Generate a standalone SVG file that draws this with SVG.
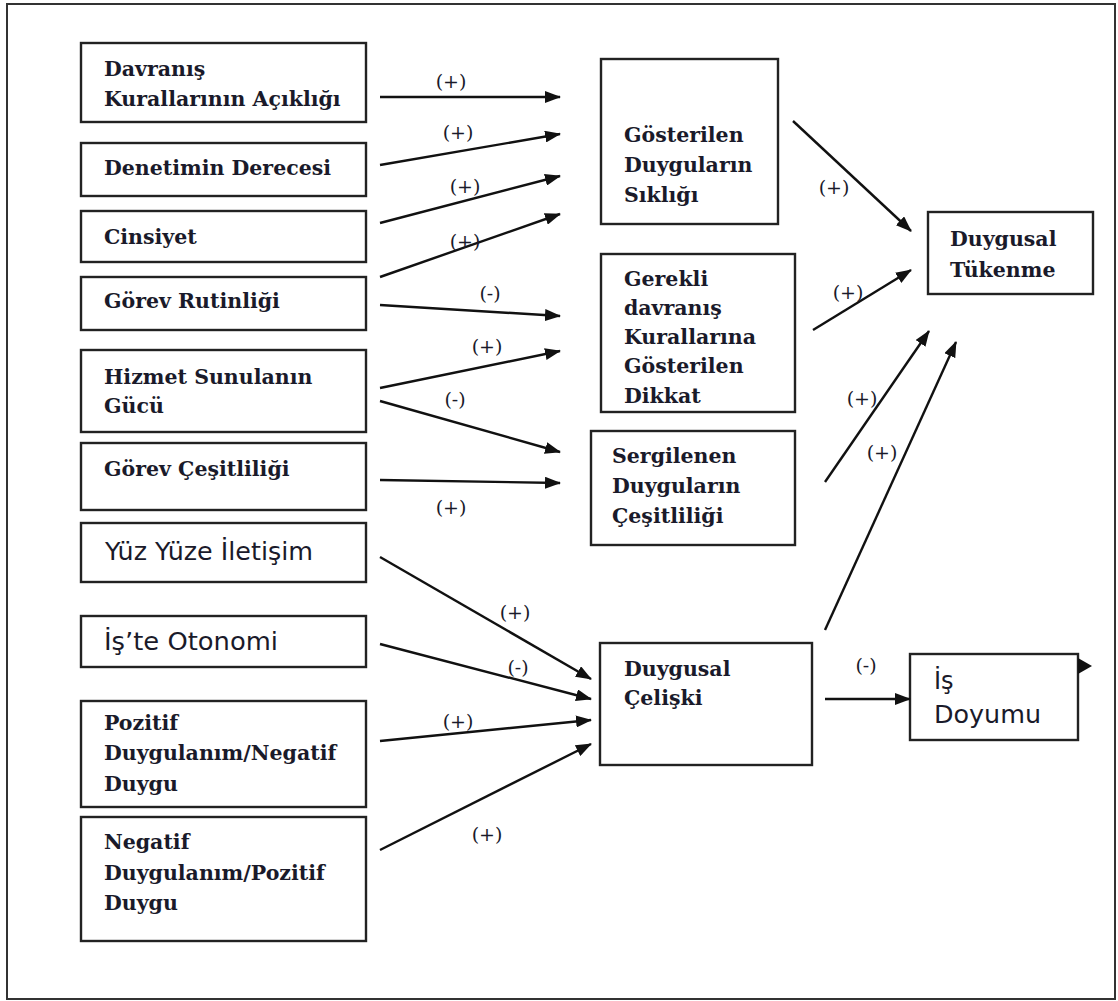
<svg xmlns="http://www.w3.org/2000/svg" width="1118" height="1001" viewBox="0 0 1118 1001">
<defs>
<marker id="ah" markerWidth="16" markerHeight="12" refX="15" refY="6" orient="auto" markerUnits="userSpaceOnUse">
<path d="M0,0 L16,6 L0,12 Z" fill="#111"/>
</marker>
<style>
.box{fill:#fff;stroke:#222;stroke-width:2.4}
.t{font-family:"DejaVu Serif","Liberation Serif",serif;font-weight:bold;font-size:20.5px;fill:#1a1a2a}
.s{font-family:"DejaVu Sans","Liberation Sans",sans-serif;font-size:24px;fill:#1a1a2a}
.l{font-family:"DejaVu Serif","Liberation Serif",serif;font-size:19px;fill:#1a1a2a;text-anchor:middle}
.c{stroke:#111;stroke-width:2.4;fill:none;marker-end:url(#ah)}
</style>
</defs>
<rect x="0" y="0" width="1118" height="1001" fill="#fff"/>
<rect x="7" y="4" width="1108" height="995" fill="none" stroke="#333" stroke-width="2"/>

<g id="n1"><rect class="box" x="81" y="43" width="285" height="79"/><text class="t" x="104" y="76">Davranış</text><text class="t" x="104" y="106">Kurallarının Açıklığı</text></g>
<g id="n2"><rect class="box" x="81" y="143" width="285" height="53"/><text class="t" x="104" y="175">Denetimin Derecesi</text></g>
<g id="n3"><rect class="box" x="81" y="211" width="285" height="51"/><text class="t" x="104" y="244">Cinsiyet</text></g>
<g id="n4"><rect class="box" x="81" y="277" width="285" height="53"/><text class="t" x="104" y="308">Görev Rutinliği</text></g>
<g id="n5"><rect class="box" x="81" y="350" width="285" height="82"/><text class="t" x="104" y="384">Hizmet Sunulanın</text><text class="t" x="104" y="413">Gücü</text></g>
<g id="n6"><rect class="box" x="81" y="443" width="285" height="67"/><text class="t" x="104" y="476">Görev Çeşitliliği</text></g>
<g id="n7"><rect class="box" x="81" y="523" width="285" height="59"/><text class="s" x="105" y="560" textLength="208" lengthAdjust="spacingAndGlyphs">Yüz Yüze İletişim</text></g>
<g id="n8"><rect class="box" x="81" y="616" width="285" height="51"/><text class="s" x="104" y="650" textLength="174" lengthAdjust="spacingAndGlyphs">İş’te Otonomi</text></g>
<g id="n9"><rect class="box" x="81" y="701" width="285" height="106"/><text class="t" x="104" y="730">Pozitif</text><text class="t" x="104" y="760">Duygulanım/Negatif</text><text class="t" x="104" y="791">Duygu</text></g>
<g id="n10"><rect class="box" x="81" y="817" width="285" height="124"/><text class="t" x="104" y="849">Negatif</text><text class="t" x="104" y="880">Duygulanım/Pozitif</text><text class="t" x="104" y="910">Duygu</text></g>

<g id="m1"><rect class="box" x="601" y="59" width="177" height="165"/><text class="t" x="624" y="142">Gösterilen</text><text class="t" x="624" y="172">Duyguların</text><text class="t" x="624" y="202">Sıklığı</text></g>
<g id="m2"><rect class="box" x="601" y="254" width="194" height="158"/><text class="t" x="624" y="286">Gerekli</text><text class="t" x="624" y="315">davranış</text><text class="t" x="624" y="344">Kurallarına</text><text class="t" x="624" y="373">Gösterilen</text><text class="t" x="624" y="403">Dikkat</text></g>
<g id="m3"><rect class="box" x="591" y="431" width="204" height="114"/><text class="t" x="612" y="463">Sergilenen</text><text class="t" x="612" y="493">Duyguların</text><text class="t" x="612" y="523">Çeşitliliği</text></g>
<g id="m4"><rect class="box" x="600" y="643" width="212" height="122"/><text class="t" x="624" y="676">Duygusal</text><text class="t" x="624" y="705">Çelişki</text></g>

<g id="r1"><rect class="box" x="928" y="212" width="165" height="82"/><text class="t" x="950" y="246">Duygusal</text><text class="t" x="950" y="277">Tükenme</text></g>
<g id="r2"><rect class="box" x="910" y="654" width="168" height="86"/><text class="s" x="934" y="689">İş</text><text class="s" x="934" y="723" textLength="107" lengthAdjust="spacingAndGlyphs">Doyumu</text><path d="M1078,658 L1092,666 L1078,674 Z" fill="#111"/></g>

<g id="connectors">
<line class="c" x1="380" y1="97" x2="560" y2="97"/>
<line class="c" x1="380" y1="165" x2="560" y2="134"/>
<line class="c" x1="380" y1="223" x2="560" y2="176"/>
<line class="c" x1="380" y1="277" x2="560" y2="214"/>
<line class="c" x1="380" y1="305" x2="560" y2="316"/>
<line class="c" x1="380" y1="388" x2="560" y2="351"/>
<line class="c" x1="380" y1="401" x2="560" y2="452"/>
<line class="c" x1="380" y1="480" x2="560" y2="483"/>
<line class="c" x1="380" y1="557" x2="591" y2="679"/>
<line class="c" x1="380" y1="644" x2="591" y2="699"/>
<line class="c" x1="380" y1="741" x2="591" y2="720"/>
<line class="c" x1="380" y1="850" x2="591" y2="744"/>
<line class="c" x1="793" y1="121" x2="911" y2="231"/>
<line class="c" x1="813" y1="330" x2="911" y2="270"/>
<line class="c" x1="825" y1="482" x2="929" y2="331"/>
<line class="c" x1="825" y1="630" x2="956" y2="342"/>
<line class="c" x1="825" y1="699" x2="910" y2="699"/>
<text class="l" x="451" y="88">(+)</text>
<text class="l" x="458" y="139">(+)</text>
<text class="l" x="465" y="193">(+)</text>
<text class="l" x="465" y="248">(+)</text>
<text class="l" x="490" y="300">(-)</text>
<text class="l" x="487" y="353">(+)</text>
<text class="l" x="455" y="406">(-)</text>
<text class="l" x="451" y="514">(+)</text>
<text class="l" x="515" y="619">(+)</text>
<text class="l" x="518" y="674">(-)</text>
<text class="l" x="458" y="728">(+)</text>
<text class="l" x="487" y="841">(+)</text>
<text class="l" x="834" y="194">(+)</text>
<text class="l" x="848" y="299">(+)</text>
<text class="l" x="862" y="405">(+)</text>
<text class="l" x="882" y="459">(+)</text>
<text class="l" x="866" y="672">(-)</text>
</g>
</svg>
